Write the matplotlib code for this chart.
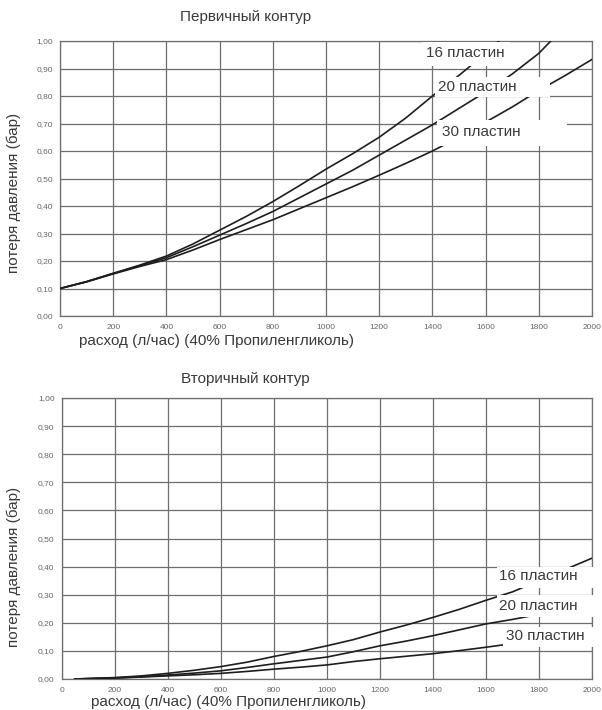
import matplotlib
matplotlib.use("Agg")
import matplotlib.pyplot as plt
from matplotlib.patches import Rectangle

plt.rcParams['font.family'] = ['Liberation Sans', 'DejaVu Sans']

# --- Первичный контур ---
x16_p = [0, 100, 200, 300, 400, 500, 600, 700, 800, 900, 1000, 1100, 1200, 1300, 1400, 1500, 1600, 1650]
y16_p = [0.10, 0.125, 0.155, 0.185, 0.218, 0.262, 0.312, 0.362, 0.416, 0.474, 0.534, 0.59, 0.65, 0.72, 0.80, 0.875, 0.955, 1.0]
x20_p = [0, 100, 200, 300, 400, 500, 600, 700, 800, 900, 1000, 1100, 1200, 1300, 1400, 1500, 1600, 1700, 1800, 1845]
y20_p = [0.10, 0.125, 0.155, 0.183, 0.212, 0.252, 0.294, 0.336, 0.38, 0.43, 0.48, 0.53, 0.585, 0.64, 0.695, 0.755, 0.815, 0.88, 0.955, 1.0]
x30_p = [0, 100, 200, 300, 400, 500, 600, 700, 800, 900, 1000, 1100, 1200, 1300, 1400, 1500, 1600, 1700, 1800, 1900, 2000]
y30_p = [0.10, 0.124, 0.153, 0.18, 0.205, 0.24, 0.278, 0.314, 0.35, 0.39, 0.43, 0.47, 0.512, 0.555, 0.60, 0.65, 0.705, 0.76, 0.82, 0.875, 0.933]

# --- Вторичный контур ---
x16_s = [50, 200, 300, 400, 500, 600, 700, 800, 900, 1000, 1100, 1200, 1300, 1400, 1500, 1600, 1700, 1800, 1900, 2000]
y16_s = [0, 0.005, 0.011, 0.02, 0.031, 0.044, 0.06, 0.08, 0.098, 0.118, 0.14, 0.167, 0.192, 0.219, 0.248, 0.28, 0.31, 0.35, 0.39, 0.43]
x20_s = [50, 200, 300, 400, 500, 600, 700, 800, 900, 1000, 1100, 1200, 1300, 1400, 1500, 1600, 1700, 1800]
y20_s = [0, 0.004, 0.008, 0.014, 0.021, 0.029, 0.041, 0.054, 0.066, 0.078, 0.097, 0.118, 0.135, 0.154, 0.175, 0.196, 0.212, 0.23]
x30_s = [50, 200, 300, 400, 500, 600, 700, 800, 900, 1000, 1100, 1200, 1300, 1400, 1500, 1600, 1700]
y30_s = [0, 0.003, 0.007, 0.011, 0.015, 0.02, 0.027, 0.035, 0.042, 0.05, 0.062, 0.072, 0.081, 0.09, 0.101, 0.113, 0.126]

labels = ['16 пластин', '20 пластин', '30 пластин']
x_ticks = list(range(0, 2001, 200))
y_ticks = [i / 10 for i in range(11)]
y_ticklabels = ['%.2f' % v for v in y_ticks]
y_ticklabels = [s.replace('.', ',') for s in y_ticklabels]

grid_col = '#6e6e6e'
line_col = '#1e1e1e'
text_col = '#3a3a3a'

fig = plt.figure(figsize=(6.02, 7.1), dpi=100)


def px_ax(x0, y_bottom, x1, y_top):
    return [x0 / 602, 1 - y_bottom / 710, (x1 - x0) / 602, (y_bottom - y_top) / 710]


def setup(ax):
    ax.set_xlim(0, 2000)
    ax.set_ylim(0, 1)
    ax.set_xticks(x_ticks)
    ax.set_xticklabels([str(t) for t in x_ticks])
    ax.set_yticks(y_ticks)
    ax.set_yticklabels(y_ticklabels)
    ax.tick_params(length=0, labelsize=6, labelcolor='#666666')
    ax.tick_params(axis='x', pad=6)
    ax.tick_params(axis='y', pad=5)
    ax.grid(True, color=grid_col, lw=0.9)
    ax.set_axisbelow(True)
    for s in ax.spines.values():
        s.set_color(grid_col)
        s.set_linewidth(0.9)


def box(ax, x0, y0, x1, y1, ox, oy, w, h):
    # white label box given in pixel coords of the figure
    r = Rectangle(((x0 - ox) / w, (oy - y1) / h), (x1 - x0) / w, (y1 - y0) / h,
                  transform=ax.transAxes, facecolor='white', edgecolor='none',
                  zorder=5, clip_on=False)
    ax.add_patch(r)


# top chart
ax1 = fig.add_axes(px_ax(60, 316, 592, 41))
setup(ax1)
ax1.plot(x16_p, y16_p, color=line_col, lw=1.2, zorder=3)
ax1.plot(x20_p, y20_p, color=line_col, lw=1.2, zorder=3)
ax1.plot(x30_p, y30_p, color=line_col, lw=1.2, zorder=3)
ox, oy, w, h = 60, 316, 532, 275
box(ax1, 422, 42, 510, 66, ox, oy, w, h)
box(ax1, 435, 77, 550, 97, ox, oy, w, h)
box(ax1, 437, 120, 567, 146, ox, oy, w, h)
for lab, (tx, ty) in zip(labels, [(426, 53), (438, 87), (442, 132)]):
    ax1.text((tx - ox) / w, (oy - ty) / h, lab, transform=ax1.transAxes, fontsize=11,
             color=text_col, va='center', ha='left', zorder=6)

# bottom chart
ax2 = fig.add_axes(px_ax(61.5, 679, 592, 398))
setup(ax2)
ax2.plot(x16_s, y16_s, color=line_col, lw=1.2, zorder=3)
ax2.plot(x20_s, y20_s, color=line_col, lw=1.2, zorder=3)
ax2.plot(x30_s, y30_s, color=line_col, lw=1.2, zorder=3)
ox, oy, w, h = 61.5, 679, 530.5, 281
box(ax2, 497, 567, 594, 588, ox, oy, w, h)
box(ax2, 497, 595, 594, 617, ox, oy, w, h)
box(ax2, 503, 627, 594, 647, ox, oy, w, h)
for lab, (tx, ty) in zip(labels, [(499, 576), (499, 606), (506, 636)]):
    ax2.text((tx - ox) / w, (oy - ty) / h, lab, transform=ax2.transAxes, fontsize=11,
             color=text_col, va='center', ha='left', zorder=6)

# titles and axis labels
fig.text(246 / 602, 1 - 17 / 710, 'Первичный контур', ha='center', va='center', fontsize=11, color=text_col)
fig.text(245 / 602, 1 - 379 / 710, 'Вторичный контур', ha='center', va='center', fontsize=11, color=text_col)
fig.text(14 / 602, 1 - 193 / 710, 'потеря давления (бар)', rotation=90, ha='center', va='center', fontsize=11, color=text_col)
fig.text(14 / 602, 1 - 567 / 710, 'потеря давления (бар)', rotation=90, ha='center', va='center', fontsize=11, color=text_col)
fig.text(79 / 602, 1 - 341 / 710, 'расход (л/час) (40% Пропиленгликоль)', ha='left', va='center', fontsize=11, color=text_col)
fig.text(91 / 602, 1 - 702 / 710, 'расход (л/час) (40% Пропиленгликоль)', ha='left', va='center', fontsize=11, color=text_col)

fig.savefig('out.png', dpi=100)
